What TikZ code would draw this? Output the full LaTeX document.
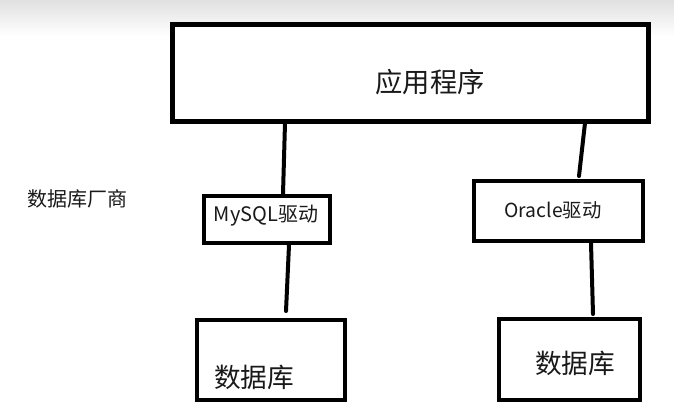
\documentclass[tikz,border=0pt]{standalone}
\usepackage{fontspec}
\setmainfont{Noto Sans CJK SC}
\usetikzlibrary{fit}
\begin{document}
\begin{tikzpicture}[x=0.75pt,y=-0.75pt,
  box/.style={draw=black, line width=3pt, inner sep=0pt, fill=white},
  bigbox/.style={box, line width=3.75pt},
  wire/.style={line width=3pt, line cap=round},
  lbl/.style={inner sep=0pt, text=black!90}]
\useasboundingbox (0,0) rectangle (674,414);
\fill[white] (0,0) rectangle (674,414);
\shade[top color=black!12, bottom color=white] (0,0) rectangle (674,36);
% boxes
\node[bigbox, fit={(172,24) (648,121)}] (app) {};
\node[box, fit={(204,196) (330,243)}] (mysql) {};
\node[box, fit={(474,181) (643,241)}] (oracle) {};
\node[box, fit={(197,320) (345,400)}] (db1) {};
\node[box, fit={(499,319) (640,400)}] (db2) {};
% texts
\node[lbl, font=\fontsize{20.5pt}{24pt}\selectfont] (apptxt) at (430,82) {应用程序};
\node[lbl, font=\fontsize{15pt}{18pt}\selectfont] (mysqltxt) at (266,216) {MySQL驱动};
\node[lbl, font=\fontsize{14.5pt}{18pt}\selectfont] (oracletxt) at (553,210) {Oracle驱动};
\node[lbl, font=\fontsize{20pt}{24pt}\selectfont] (db1txt) at (254,377) {数据库};
\node[lbl, font=\fontsize{20pt}{24pt}\selectfont] (db2txt) at (575,363) {数据库};
\node[lbl, font=\fontsize{15pt}{18pt}\selectfont] (vendor) at (77,199) {数据库厂商};
% connector end points
\coordinate (a1) at (285,123);
\coordinate (m1) at (283,194);
\coordinate (m2) at (289,245);
\coordinate (d1) at (286,311);
\coordinate (a2) at (585,123);
\coordinate (o1) at (579,176);
\coordinate (o2) at (591,243);
\coordinate (d2) at (593,314);
\draw[wire] (a1) -- (m1);
\draw[wire] (m2) -- (d1);
\draw[wire] (a2) -- (o1);
\draw[wire] (o2) -- (d2);
\end{tikzpicture}
\end{document}
